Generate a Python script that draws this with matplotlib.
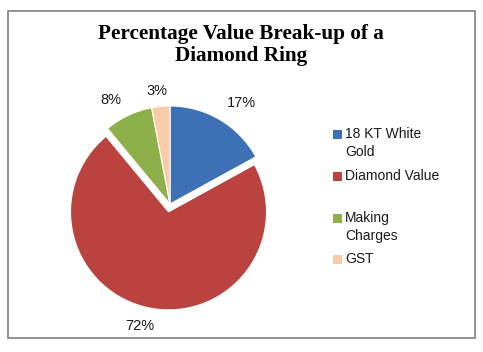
import matplotlib.pyplot as plt
from matplotlib.patches import Rectangle

labels = ["18 KT White\nGold", "Diamond Value", "Making\nCharges", "GST"]
values = [17, 72, 8, 3]
pct_text = ["17%", "72%", "8%", "3%"]
colors = ["#3E70B6", "#BA4340", "#8DB04B", "#F8CBA9"]

W, H = 483, 352
fig = plt.figure(figsize=(W / 100, H / 100), dpi=100)
ax = fig.add_axes([0, 0, 1, 1])

# outer frame
ax.add_patch(Rectangle((7.5, H - 338), 467.5, 327, fill=False,
                       edgecolor="#7F7F7F", linewidth=1.2))

cx, cy, r = 170, H - 204, 98
ax.pie(values, colors=colors, startangle=90, counterclock=False,
       center=(cx, cy), radius=r, explode=[0, 8, 0, 0],
       wedgeprops=dict(edgecolor="white", linewidth=0.8),
       frame=True)
ax.set_xlim(0, W)
ax.set_ylim(0, H)
ax.set_aspect("equal")
ax.axis("off")

# percentage labels
label_pos = [(241, 103), (140, 326), (111, 100), (157, 91)]
for (x, y), t in zip(label_pos, pct_text):
    ax.text(x, H - y, t, ha="center", va="center", fontsize=10.5,
            family="Liberation Sans", color="#1a1a1a")

# title
ax.text(241, H - 45, "Percentage Value Break-up of a\nDiamond Ring",
        ha="center", va="center", fontsize=15.3, fontweight="bold",
        family="Liberation Serif", linespacing=1.15)

# legend
leg_y = [143, 176, 227, 259]
for y, lab, c in zip(leg_y, labels, colors):
    n = lab.count("\n")
    top = y - 9 * n
    ax.add_patch(Rectangle((333, H - top - 4.5), 8.5, 8.5, facecolor=c, edgecolor="none"))
    ax.text(345, H - y, lab, ha="left", va="center", fontsize=10,
            family="Liberation Sans", color="#1a1a1a", linespacing=1.45)

fig.savefig("out.png", dpi=100, facecolor="white")
